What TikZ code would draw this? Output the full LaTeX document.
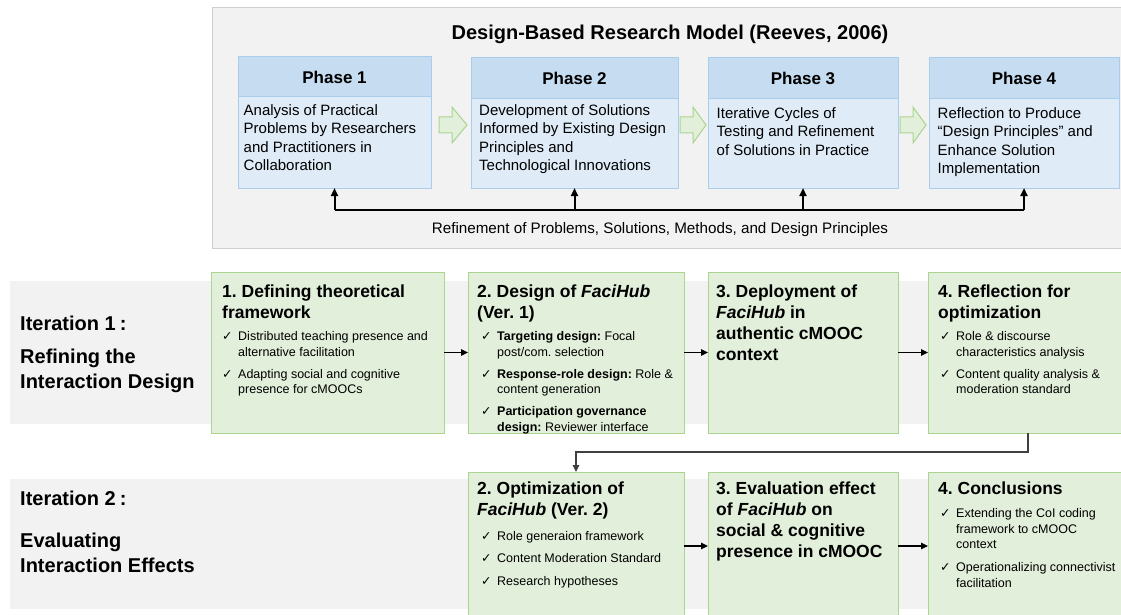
\documentclass[tikz,border=0pt]{standalone}
\usepackage{fontspec}
\setmainfont{Liberation Sans}
\newfontfamily\dejavu{DejaVu Sans}
\usetikzlibrary{arrows.meta}
\definecolor{bandgray}{HTML}{F2F2F2}
\definecolor{outerborder}{HTML}{CFCFCF}
\definecolor{phhead}{HTML}{C6DCF1}
\definecolor{phbody}{HTML}{DFEBF7}
\definecolor{phborder}{HTML}{A9CDEB}
\definecolor{gfill}{HTML}{E2EFDA}
\definecolor{gborder}{HTML}{AAD48F}
\definecolor{conn}{HTML}{404040}
\newcommand{\chk}{{\dejavu\fontsize{12.5}{12}\selectfont ✓}}
\newcommand{\ck}{\makebox[16pt][l]{\chk}}
\newcommand{\fh}{\textit{FaciHub}}
\newcommand{\lines}[1]{\begin{tabular}[t]{@{}l@{}}#1\end{tabular}}
\newcommand{\blist}[1]{\begin{tabular}[t]{@{}l@{}l@{}}#1\end{tabular}}
\tikzset{
  outerbox/.style={fill=bandgray, draw=outerborder, line width=1pt},
  pbody/.style={fill=phbody, draw=phborder, line width=1pt, inner sep=0, outer sep=0, anchor=north west},
  phead/.style={fill=phhead, draw=phborder, line width=1pt, inner sep=0, outer sep=0, anchor=north west, font=\bfseries\fontsize{17}{20}\selectfont},
  gbox/.style={fill=gfill, draw=gborder, line width=1pt, inner sep=0, outer sep=0, anchor=north west},
  ptext/.style={inner sep=0, anchor=base west, font=\fontsize{15}{18.3}\selectfont},
  ttext/.style={inner sep=0, anchor=base west, font=\bfseries\fontsize{17.5}{21}\selectfont},
  btext/.style={inner sep=0, anchor=base west, font=\fontsize{12.5}{15.5}\selectfont},
  itext/.style={inner sep=0, anchor=base west, font=\bfseries\fontsize{20}{25}\selectfont},
  arr/.style={draw=black, line width=1.1pt, -{Triangle[length=7pt,width=6.5pt]}},
  elbow/.style={draw=conn, line width=1.5pt, -{Triangle[length=7pt,width=6.5pt]}, color=conn},
  fbline/.style={draw=black, line width=2pt},
  fbarrow/.style={draw=black, line width=2pt, -{Triangle[length=8pt,width=7pt]}},
  hollow/.style={fill=gfill, draw=gborder, line width=1pt, line join=miter},
}
\begin{document}
\frenchspacing
\begin{tikzpicture}[x=1pt,y=-1pt]
\useasboundingbox (0,0) rectangle (1121,615);
% ---------- top model ----------
\fill[outerbox] (212,8) rectangle (1130,248);
\node[inner sep=0, anchor=base, font=\bfseries\fontsize{20}{24}\selectfont] (title) at (670,40) {Design-Based Research Model (Reeves, 2006)};

\node[pbody, minimum width=193, minimum height=131] (p1) at (238,57) {};
\node[phead, minimum width=193, minimum height=40] (p1h) at (238,57) {Phase 1};
\node[pbody, minimum width=207, minimum height=130] (p2) at (471,58) {};
\node[phead, minimum width=207, minimum height=41] (p2h) at (471,58) {Phase 2};
\node[pbody, minimum width=190, minimum height=130] (p3) at (708,58) {};
\node[phead, minimum width=190, minimum height=41] (p3h) at (708,58) {Phase 3};
\node[pbody, minimum width=190, minimum height=130] (p4) at (929,58) {};
\node[phead, minimum width=190, minimum height=41] (p4h) at (929,58) {Phase 4};

\node[ptext] (p1x) at (243.5,115.5) {\lines{Analysis of Practical\\Problems by Researchers\\and Practitioners in\\Collaboration}};
\node[ptext] (p2x) at (479,115.5) {\lines{Development of Solutions\\Informed by Existing Design\\Principles and\\Technological Innovations}};
\node[ptext] (p3x) at (716.5,118.5) {\lines{Iterative Cycles of\\Testing and Refinement\\of Solutions in Practice}};
\node[ptext] (p4x) at (937.5,118.5) {\lines{Reflection to Produce\\``Design Principles'' and\\Enhance Solution\\Implementation}};

% hollow arrows
\draw[hollow] (439,117) -- (452,117) -- (452,107) -- (467,125) -- (452,143) -- (452,133) -- (439,133) -- cycle;
\draw[hollow] (680,117) -- (693,117) -- (693,107) -- (706,125) -- (693,143) -- (693,133) -- (680,133) -- cycle;
\draw[hollow] (900,117) -- (913,117) -- (913,107) -- (926,125) -- (913,143) -- (913,133) -- (900,133) -- cycle;

% feedback
\coordinate (fb) at (0,210);
\draw[fbline] (p1.south |- fb) -- (p4.south |- fb);
\foreach \p in {p1,p2,p3,p4} \draw[fbarrow] (\p.south |- fb) -- (\p.south);
\node[inner sep=0, anchor=base, font=\fontsize{15.2}{18}\selectfont] (refine) at (660,233) {Refinement of Problems, Solutions, Methods, and Design Principles};

% ---------- bands ----------
\fill[bandgray] (10,281) rectangle (1130,424);
\fill[bandgray] (10,479) rectangle (1130,609);

\node[itext] (it1a) at (20,330) {Iteration 1\kern4pt:};
\node[itext] (it1b) at (20,363) {\lines{Refining the\\Interaction Design}};
\node[itext] (it2a) at (20,505) {Iteration 2\kern4pt:};
\node[itext] (it2b) at (20,547) {\lines{Evaluating\\Interaction Effects}};

% ---------- iteration 1 boxes ----------
\node[gbox, minimum width=233, minimum height=161] (b1) at (211,272) {};
\node[gbox, minimum width=216, minimum height=161] (b2) at (468,272) {};
\node[gbox, minimum width=190, minimum height=161] (b3) at (708,272) {};
\node[gbox, minimum width=200, minimum height=161] (b4) at (928,272) {};

\node[ttext] (b1t) at (222,297) {\lines{1. Defining theoretical\\framework}};
\node[btext] (b1l) at (222,340.5) {\blist{\ck & Distributed teaching presence and\\ & alternative facilitation\\[6.5pt] \ck & Adapting social and cognitive\\ & presence for cMOOCs}};

\node[ttext] (b2t) at (477,297) {\lines{2. Design of \fh\\(Ver. 1)}};
\node[btext] (b2l) at (481,340.5) {\blist{\ck & \textbf{Targeting design:} Focal\\ & post/com. selection\\[6.5pt] \ck & \textbf{Response-role design:} Role \&\\ & content generation\\[6.5pt] \ck & \textbf{Participation governance}\\ & \textbf{design:} Reviewer interface}};

\node[ttext] (b3t) at (716,297) {\lines{3. Deployment of\\\fh\ in\\authentic cMOOC\\context}};

\node[ttext] (b4t) at (938,297) {\lines{4. Reflection for\\optimization}};
\node[btext] (b4l) at (940,340.5) {\blist{\ck & Role \& discourse\\ & characteristics analysis\\[6.5pt] \ck & Content quality analysis \&\\ & moderation standard}};

\draw[arr] (b1.east) -- (b2.west);
\draw[arr] (b2.east) -- (b3.west);
\draw[arr] (b3.east) -- (b4.west);

% ---------- iteration 2 boxes ----------
\node[gbox, minimum width=216, minimum height=148] (c2) at (468,472) {};
\node[gbox, minimum width=190, minimum height=148] (c3) at (708,472) {};
\node[gbox, minimum width=200, minimum height=148] (c4) at (928,472) {};

\node[ttext] (c2t) at (477,494) {\lines{2. Optimization of\\\fh\ (Ver. 2)}};
\node[btext] (c2l) at (481,540) {\blist{\ck & Role generaion framework\\[7pt] \ck & Content Moderation Standard\\[7pt] \ck & Research hypotheses}};

\node[ttext] (c3t) at (716,494) {\lines{3. Evaluation effect\\of \fh\ on\\social \& cognitive\\presence in cMOOC}};

\node[ttext] (c4t) at (938,494) {4. Conclusions};
\node[btext] (c4l) at (940,517.5) {\blist{\ck & Extending the CoI coding\\ & framework to cMOOC\\ & context\\[7.5pt] \ck & Operationalizing connectivist\\ & facilitation}};

\draw[arr] (c2.east) -- (c3.west);
\draw[arr] (c3.east) -- (c4.west);

\draw[elbow] (b4.south) -- ++(0,19) -| (c2.north);
\end{tikzpicture}
\end{document}
